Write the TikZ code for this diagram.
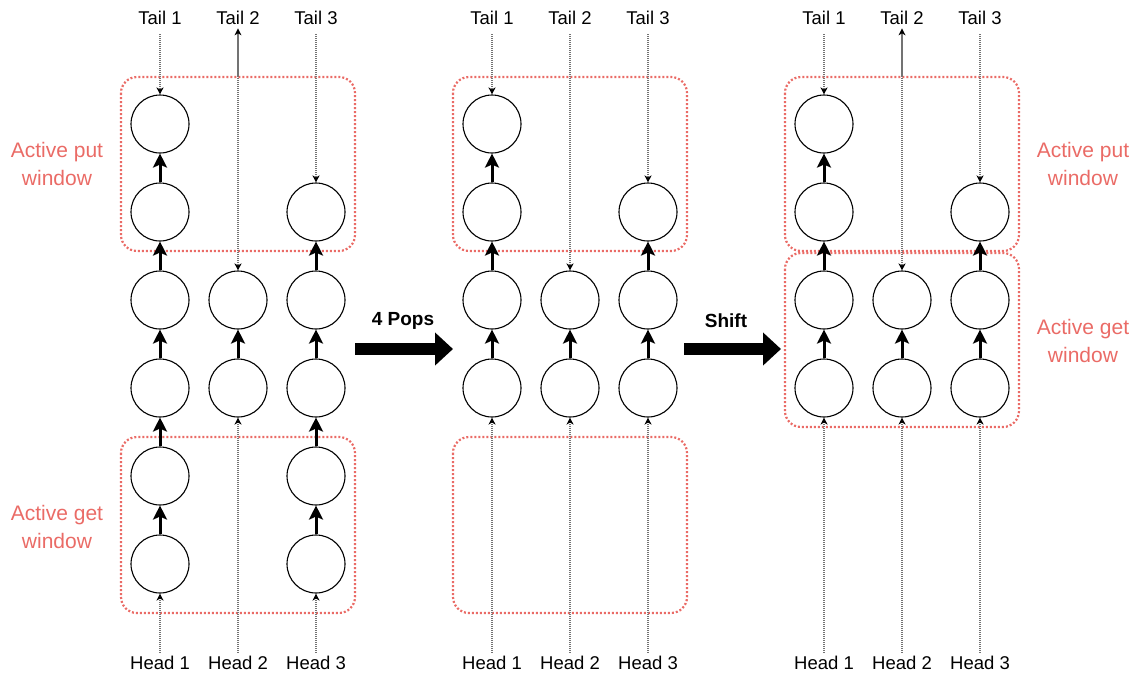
\documentclass[tikz,border=0pt]{standalone}
\usepackage{fontspec}
\setmainfont{Liberation Sans}
\usetikzlibrary{arrows.meta}
\definecolor{winred}{RGB}{234,107,102}

\begin{document}
\begin{tikzpicture}[x=1pt,y=-1pt,
		cell/.style={draw,circle,fill=white,minimum size=58pt,inner sep=0pt,line width=1.1pt},
		link/.style={line width=3pt,-{Stealth[length=14pt,width=14pt,inset=3pt]}},
		ptr/.style={black!55,line width=1.1pt,dash pattern=on 1pt off 1pt,-{Stealth[length=7pt,width=7pt,inset=2pt,color=black]}},
		back/.style={black!55,line width=1.1pt,-{Stealth[length=7pt,width=7pt,inset=2pt,color=black]}},
		window/.style={winred,line width=2.2pt,dash pattern=on 2pt off 2pt,rounded corners=16pt},
		txt/.style={font=\fontsize{18.5}{21}\selectfont},
		note/.style={text=winred,align=center,font=\fontsize{21}{28}\selectfont},
		big/.style={line width=12pt,-{Triangle[length=18pt,width=32pt]}}]
	\useasboundingbox (0,0) rectangle (1141,675);

	% windows
	\draw[window] (121,77)  rectangle (355,251);
	\draw[window] (121,437) rectangle (355,613);
	\draw[window] (453,77)  rectangle (687,251);
	\draw[window] (453,437) rectangle (687,613);
	\draw[window] (785,77)  rectangle (1019,251);
	\draw[window] (785,253) rectangle (1019,427);

	\node[note] (putA) at (57,164)   {Active put\\window};
	\node[note] (getA) at (57,527)   {Active get\\window};
	\node[note] (putC) at (1083,164) {Active put\\window};
	\node[note] (getC) at (1083,341) {Active get\\window};

	% before: three queues
	\foreach \r/\y in {1/124,2/212,3/300,4/388,5/476,6/564}
		\node[cell] (a1\r) at (160,\y) {};
	\node[cell] (a23) at (238,300) {};
	\node[cell] (a24) at (238,388) {};
	\foreach \r/\y in {2/212,3/300,4/388,5/476,6/564}
		\node[cell] (a3\r) at (316,\y) {};

	\foreach \r/\s in {1/2,2/3,3/4,4/5,5/6}
		\draw[link] (a1\s) -- (a1\r);
	\draw[link] (a24) -- (a23);
	\foreach \r/\s in {2/3,3/4,4/5,5/6}
		\draw[link] (a3\s) -- (a3\r);

	% after the pops
	\foreach \c/\x in {1/492,2/570,3/648}{
		\node[cell] (b\c3) at (\x,300) {};
		\node[cell] (b\c4) at (\x,388) {};
		\draw[link] (b\c4) -- (b\c3);
	}
	\node[cell] (b12) at (492,212) {};
	\node[cell] (b11) at (492,124) {};
	\node[cell] (b32) at (648,212) {};
	\draw[link] (b13) -- (b12);
	\draw[link] (b12) -- (b11);
	\draw[link] (b33) -- (b32);

	% after the shift
	\foreach \c/\x in {1/824,2/902,3/980}{
		\node[cell] (c\c3) at (\x,300) {};
		\node[cell] (c\c4) at (\x,388) {};
		\draw[link] (c\c4) -- (c\c3);
	}
	\node[cell] (c12) at (824,212) {};
	\node[cell] (c11) at (824,124) {};
	\node[cell] (c32) at (980,212) {};
	\draw[link] (c13) -- (c12);
	\draw[link] (c12) -- (c11);
	\draw[link] (c33) -- (c32);

	% tails and heads
	\foreach \p/\o in {a/0,b/332,c/664}{
		\foreach \c/\x in {1/160,2/238,3/316}{
			\node[txt] (t\p\c) at (\x+\o,18)  {Tail \c};
			\node[txt] (h\p\c) at (\x+\o,663) {Head \c};
		}
		\draw[ptr,shorten <=6pt] (t\p1) -- (\p11);
		\draw[ptr,shorten <=6pt] (t\p2) -- (\p23);
		\draw[ptr,shorten <=6pt] (t\p3) -- (\p32);
	}
	\draw[ptr] (ha1) -- (a16);
	\draw[ptr] (ha2) -- (a24);
	\draw[ptr] (ha3) -- (a36);
	\foreach \p in {b,c}{
		\draw[ptr] (h\p1) -- (\p14);
		\draw[ptr] (h\p2) -- (\p24);
		\draw[ptr] (h\p3) -- (\p34);
	}
	\coordinate (a2top) at (238,77);
	\coordinate (c2top) at (902,77);
	\draw[back] (a2top) -- (ta2);
	\draw[back] (c2top) -- (tc2);

	% steps
	\coordinate (popL) at (355,349);
	\coordinate (popR) at (453,349);
	\coordinate (shiftL) at (684,349);
	\coordinate (shiftR) at (781,349);
	\draw[big] (popL) -- (popR);
	\draw[big] (shiftL) -- (shiftR);
	\node[txt,font=\fontsize{19}{22}\selectfont\bfseries] (pops) at (403,321) {4 Pops};
	\node[txt,font=\fontsize{19}{22}\selectfont\bfseries] (shift) at (726,321) {Shift};
\end{tikzpicture}
\end{document}
